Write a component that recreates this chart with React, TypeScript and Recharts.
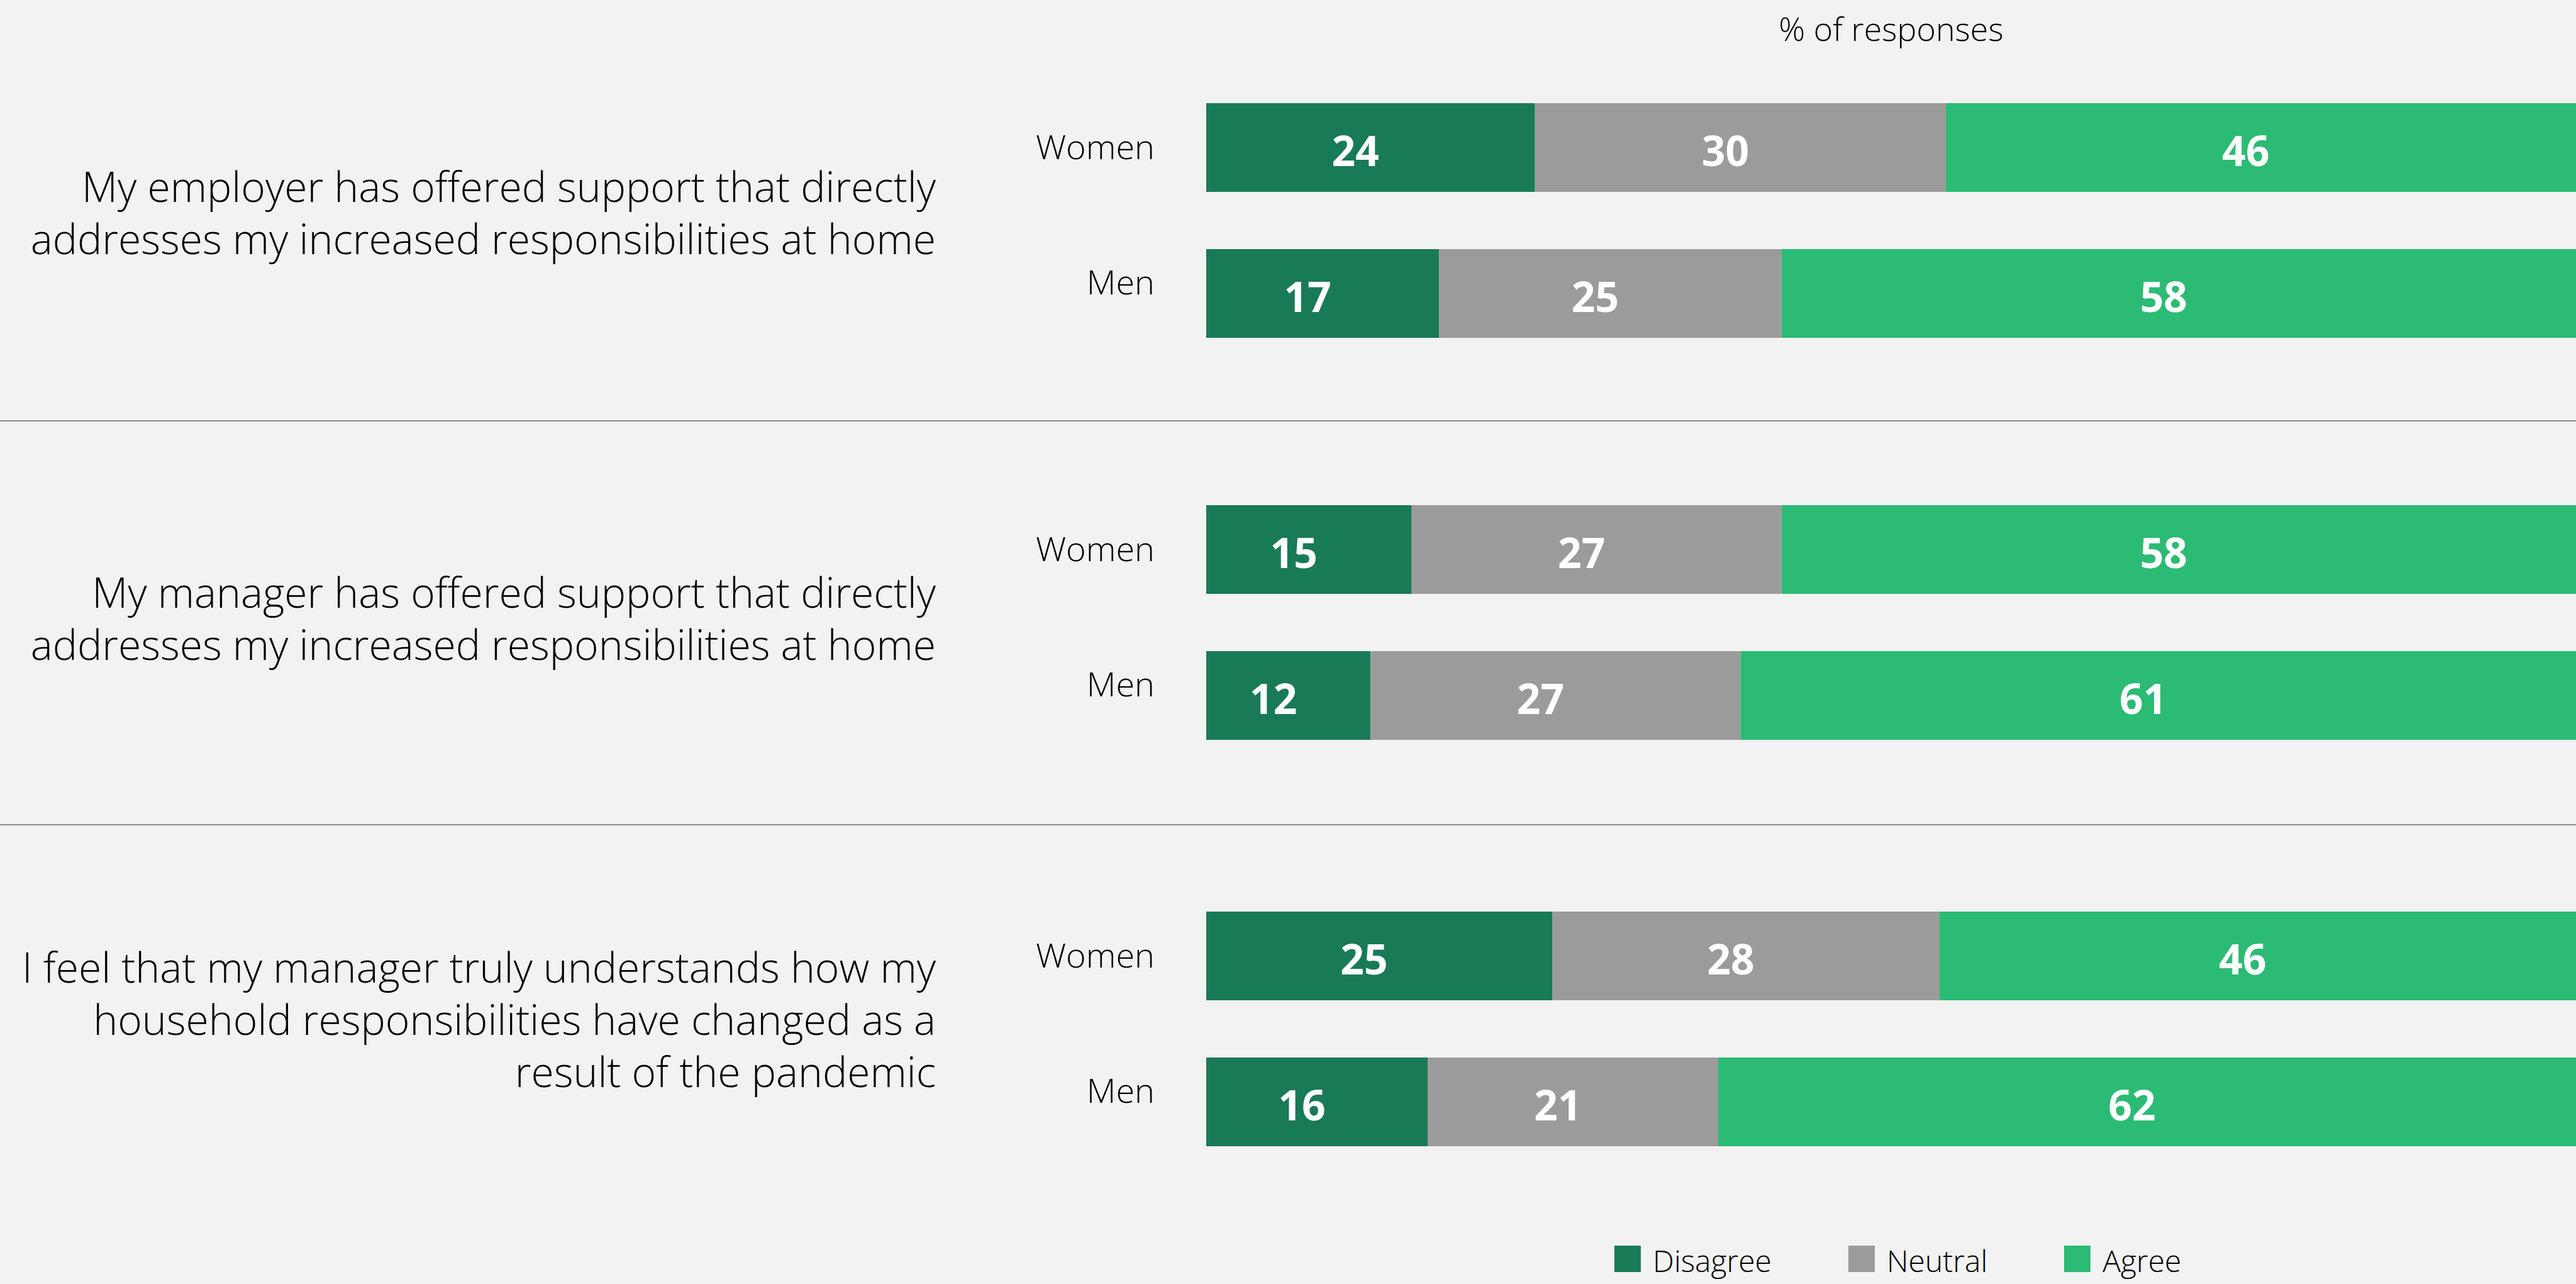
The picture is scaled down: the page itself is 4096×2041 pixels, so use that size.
import React from 'react';
import { BarChart, Bar, XAxis, YAxis, LabelList, Legend } from 'recharts';

// ---------- data ----------
const questionLines: string[][] = [
  ['My employer has offered support that directly', 'addresses my increased responsibilities at home'],
  ['My manager has offered support that directly', 'addresses my increased responsibilities at home'],
  ['I feel that my manager truly understands how my', 'household responsibilities have changed as a', 'result of the pandemic'],
];
const genders = ['Women', 'Men'];
const disagreeValues = [24, 17, 15, 12, 25, 16];
const neutralValues = [30, 25, 27, 27, 28, 21];
const agreeValues = [46, 58, 58, 61, 46, 62];
const seriesNames = ['Disagree', 'Neutral', 'Agree'];
const axisTitle = '% of responses';

// ---------- style ----------
const W = 4096;
const H = 2041;
const BG = '#F2F2F2';
const COLORS = ['#197A56', '#9B9B9B', '#2BBB74'];
const FONT = "'Open Sans', 'DejaVu Sans', sans-serif";
const AXIS_W = 1918;
const BAND = 232;
const BAR = 141;
const TITLE_H = 118;
const groupTops = [0, 757, 1403];
const questionTops = [254, 899, 1495];
const separatorTops = [668, 1310];
const LEGEND_TOP = 1980;
const LEGEND_LEFT = 2567;

const groups = questionLines.map((_, g) =>
  genders.map((gender, i) => ({
    gender,
    disagree: disagreeValues[g * 2 + i],
    neutral: neutralValues[g * 2 + i],
    agree: agreeValues[g * 2 + i],
  }))
);

const GenderTick = (props: any) => {
  const { x, y, payload } = props;
  const shift = payload.value === 'Men' ? -17 : 0;
  return (
    <text x={x} y={y + shift} textAnchor="end" fill="#000" fontSize={54} fontWeight={300} fontFamily={FONT}>
      <tspan x={x} dy="0.36em">{payload.value}</tspan>
    </text>
  );
};

const LegendContent = (props: any) => {
  const items = [...(props.payload || [])].sort(
    (a: any, b: any) => seriesNames.indexOf(a.value) - seriesNames.indexOf(b.value)
  );
  return (
    <div style={{ display: 'flex', alignItems: 'flex-start' }}>
      {items.map((p: any) => (
        <div key={p.value} style={{ display: 'flex', alignItems: 'flex-end', marginRight: 122 }}>
          <div style={{ width: 42, height: 42, background: p.color }} />
          <span
            style={{
              marginLeft: 19,
              fontSize: 48,
              lineHeight: '48px',
              marginBottom: -6,
              color: '#000',
              fontWeight: 300,
              fontFamily: FONT,
              whiteSpace: 'nowrap',
            }}
          >
            {p.value}
          </span>
        </div>
      ))}
    </div>
  );
};

const labelStyle = { fill: '#fff', fontSize: 66, fontWeight: 700, fontFamily: FONT, dx: -24, dy: 6 };

function GroupChart({ g }: { g: number }) {
  const isFirst = g === 0;
  const isLast = g === groups.length - 1;
  const top = groupTops[g];
  const plotTop = isFirst ? TITLE_H : 0;
  const height = isLast ? H - top : plotTop + BAND * 2;
  const bottomMargin = isLast ? H - top - BAND * 2 : 0;
  return (
    <div style={{ position: 'absolute', left: 0, top, width: W, height }}>
      <BarChart
        width={W}
        height={height}
        data={groups[g]}
        layout="vertical"
        stackOffset="expand"
        barSize={BAR}
        margin={{ top: 0, right: 0, bottom: bottomMargin, left: 0 }}
      >
        {isFirst ? (
          <XAxis
            type="number"
            orientation="top"
            height={TITLE_H}
            tick={false}
            axisLine={false}
            tickLine={false}
            label={{
              value: axisTitle,
              position: 'insideTop',
              offset: 28,
              fill: '#000',
              fontSize: 52,
              fontWeight: 300,
              fontFamily: FONT,
            }}
          />
        ) : (
          <XAxis type="number" hide />
        )}
        <YAxis
          type="category"
          dataKey="gender"
          width={AXIS_W}
          axisLine={false}
          tickLine={false}
          tickSize={0}
          tickMargin={82}
          tick={<GenderTick />}
        />
        <Bar dataKey="disagree" name={seriesNames[0]} stackId="a" fill={COLORS[0]} barSize={BAR} isAnimationActive={false}>
          <LabelList dataKey="disagree" position="center" {...labelStyle} />
        </Bar>
        <Bar dataKey="neutral" name={seriesNames[1]} stackId="a" fill={COLORS[1]} barSize={BAR} isAnimationActive={false}>
          <LabelList dataKey="neutral" position="center" {...labelStyle} />
        </Bar>
        <Bar dataKey="agree" name={seriesNames[2]} stackId="a" fill={COLORS[2]} barSize={BAR} isAnimationActive={false}>
          <LabelList dataKey="agree" position="center" {...labelStyle} />
        </Bar>
        {isLast && (
          <Legend
            layout="horizontal"
            verticalAlign="middle"
            align="center"
            content={<LegendContent />}
            wrapperStyle={{ left: LEGEND_LEFT, top: LEGEND_TOP - top, width: 1500, height: 60, right: 'auto', bottom: 'auto' }}
          />
        )}
      </BarChart>
    </div>
  );
}

export default function App() {
  return (
    <div
      style={{
        position: 'absolute',
        left: 0,
        top: 0,
        width: W,
        height: H,
        background: BG,
        fontFamily: FONT,
        overflow: 'hidden',
      }}
    >
      {separatorTops.map((t) => (
        <div key={t} style={{ position: 'absolute', left: 0, top: t, width: W, height: 2, background: '#8C8C8C' }} />
      ))}
      {questionLines.map((lines, g) => (
        <div
          key={g}
          style={{
            position: 'absolute',
            left: 0,
            top: questionTops[g],
            width: 1488,
            textAlign: 'right',
            fontSize: 66,
            lineHeight: '83px',
            fontWeight: 300,
            color: '#000',
            whiteSpace: 'nowrap',
          }}
        >
          {lines.map((l) => (
            <div key={l}>{l}</div>
          ))}
        </div>
      ))}
      {groups.map((_, g) => (
        <GroupChart key={g} g={g} />
      ))}
    </div>
  );
}
